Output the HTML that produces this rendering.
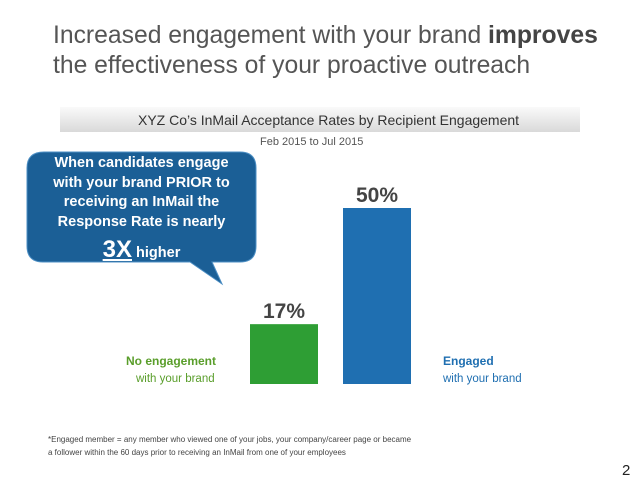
<!DOCTYPE html>
<html><head><meta charset="utf-8"><style>
body{margin:0;width:638px;height:479px;background:#fff;font-family:"Liberation Sans",sans-serif;position:relative;overflow:hidden}
.a{position:absolute;white-space:nowrap}
</style></head><body>
<div class="a" style="left:53px;top:21px;font-size:24.7px;line-height:30px;color:#555">Increased engagement with your brand <b style="color:#444">improves</b><br>the effectiveness of your proactive outreach</div>
<div class="a" style="left:60px;top:107px;width:520px;height:25px;background:linear-gradient(#fafafa,#d9d9d9);"></div>
<div class="a" style="left:138px;top:112px;font-size:14px;color:#333">XYZ Co’s InMail Acceptance Rates by Recipient Engagement</div>
<div class="a" style="left:260px;top:136px;font-size:11px;color:#555">Feb 2015 to Jul 2015</div>
<svg class="a" style="left:0;top:0" width="638" height="479">
<path d="M44,152 H240 Q256,152 256,168 V246 Q256,262 240,262 H212 L222,284 L190,262 H43 Q27,262 27,246 V168 Q27,152 44,152 Z" fill="#1b5f96" stroke="#4d8fc4" stroke-width="1"/>
<g id="bars"></g>
</svg>
<div class="a" style="left:27px;top:154px;width:229px;text-align:center;color:#fff;font-weight:bold;font-size:14.5px;line-height:19.5px">When candidates engage<br>with your brand PRIOR to<br>receiving an InMail the<br>Response Rate is nearly<br><span style="font-size:24px;line-height:36px;text-decoration:underline">3X</span> higher</div>
<div class="a" style="left:126px;top:354px;font-size:12px;font-weight:bold;color:#5a9e2b">No engagement</div>
<div class="a" style="left:136px;top:373px;font-size:11.5px;color:#5a9e2b">with your brand</div>
<div class="a" style="left:443px;top:354px;font-size:12px;font-weight:bold;color:#1f6fb1">Engaged</div>
<div class="a" style="left:443px;top:373px;font-size:11.5px;color:#1f6fb1">with your brand</div>
<div class="a" style="left:48px;top:433px;font-size:8px;line-height:13px;color:#444">*Engaged member = any member who viewed one of your jobs, your company/career page or became<br>a follower within the 60 days prior to receiving an InMail from one of your employees</div>
<div class="a" style="left:622px;top:462px;font-size:15px;color:#222">2</div>
<script>
const categories=["No engagement","Engaged"];
const values=[17,50];
const valueLabels=["17%","50%"];
const colors=["#2e9e34","#1f6fb1"];
const baseY=384, pxPer=3.52;
const xs=[250,343], w=68;
function y(v){return baseY-v*pxPer;}
const g=document.getElementById('bars');
const ns="http://www.w3.org/2000/svg";
values.forEach((v,i)=>{
 const r=document.createElementNS(ns,'rect');
 
 
 r.setAttribute('x',xs[i]);r.setAttribute('y',y(v));r.setAttribute('width',w);r.setAttribute('height',baseY-y(v));r.setAttribute('fill',colors[i]);
 g.appendChild(r);
 const t=document.createElementNS(ns,'text');
 
 
 t.setAttribute('x',xs[i]+w/2);t.setAttribute('y',y(v)-6);t.setAttribute('text-anchor','middle');
 t.setAttribute('font-size','21');t.setAttribute('font-weight','bold');t.setAttribute('fill','#444');t.setAttribute('font-family','Liberation Sans, sans-serif');
 t.textContent=valueLabels[i];g.appendChild(t);
});
</script>
</body></html>
